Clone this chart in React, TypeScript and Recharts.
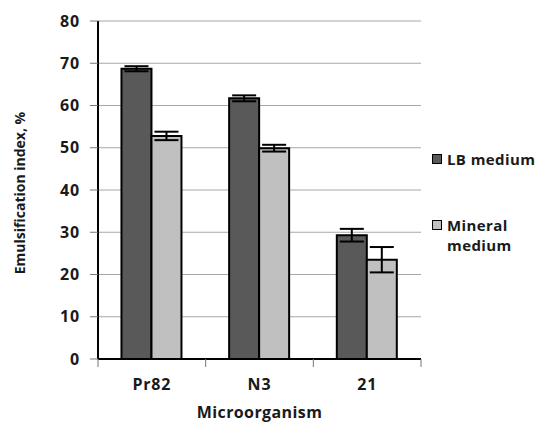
import {
  BarChart,
  Bar,
  XAxis,
  YAxis,
  CartesianGrid,
  ErrorBar,
  Legend,
  Label,
} from "recharts";

const microorganisms = ["Pr82", "N3", "21"];
const lbMedium = [68.7, 61.7, 29.3];
const lbError = [0.6, 0.7, 1.5];
const mineralMedium = [52.8, 49.9, 23.5];
const mineralError = [1.0, 0.8, 3.0];
const yTicks = [0, 10, 20, 30, 40, 50, 60, 70, 80];

const data = microorganisms.map((name, i) => ({
  name,
  lb: lbMedium[i],
  lbErr: lbError[i],
  mineral: mineralMedium[i],
  mineralErr: mineralError[i],
}));

const FONT = "'Open Sans', sans-serif";
const W = 543;
const H = 422;
const margin = { top: 21, right: 122, left: 0, bottom: 0 };
const yAxisWidth = 98;
const xAxisHeight = 63;
const plotWidth = W - margin.left - margin.right - yAxisWidth;
const band = plotWidth / microorganisms.length;

const textStyle = {
  fontFamily: FONT,
  fontWeight: 700,
  fill: "#1a1a1a",
};

function XTick({ x, y, payload }: any) {
  const half = band / 2;
  return (
    <g>
      <line x1={x - half} y1={y - 2} x2={x - half} y2={y + 6} stroke="#777" />
      {payload.index === microorganisms.length - 1 && (
        <line x1={x + half} y1={y - 2} x2={x + half} y2={y + 6} stroke="#777" />
      )}
      <text x={x} y={y + 29} textAnchor="middle" fontSize={16} letterSpacing={0.8} {...textStyle}>
        {payload.value}
      </text>
    </g>
  );
}

function renderLegend({ payload }: any) {
  return (
    <div
      style={{
        fontFamily: FONT,
        fontWeight: 700,
        fontSize: 15,
        letterSpacing: 0.4,
        color: "#1a1a1a",
      }}
    >
      {(payload ?? []).map((p: any, i: number) => (
        <div
          key={p.value}
          style={{ display: "flex", alignItems: "flex-start", marginBottom: i === 0 ? 46 : 0 }}
        >
          <span
            style={{
              width: 8,
              height: 8,
              marginTop: 5,
              marginRight: 5,
              flexShrink: 0,
              background: p.color,
              border: "1.5px solid #000",
            }}
          />
          <span style={{ maxWidth: 100, lineHeight: "20px" }}>{p.value}</span>
        </div>
      ))}
    </div>
  );
}

export default function App() {
  return (
    <div style={{ position: "absolute", left: 0, top: 0, width: W, height: H, background: "#fff" }}>
      <BarChart
        width={W}
        height={H}
        data={data}
        margin={margin}
        barCategoryGap="21.8%"
        barGap={0}
      >
        <CartesianGrid vertical={false} stroke="#a8a8a8" strokeWidth={1.2} />
        <XAxis
          dataKey="name"
          height={xAxisHeight}
          axisLine={{ stroke: "#000", strokeWidth: 2 }}
          tickLine={false}
          tickSize={0}
          tick={<XTick />}
          interval={0}
        >
          <Label
            content={({ viewBox }: any) => (
              <text
                x={viewBox.x + viewBox.width / 2}
                y={viewBox.y + 59}
                textAnchor="middle"
                fontSize={16}
                letterSpacing={0.4}
                {...textStyle}
              >
                Microorganism
              </text>
            )}
          />
        </XAxis>
        <XAxis
          xAxisId="top"
          dataKey="name"
          orientation="top"
          height={0}
          tick={false}
          tickLine={false}
          axisLine={{ stroke: "#000", strokeWidth: 2 }}
        />
        <YAxis
          width={yAxisWidth}
          domain={[0, 80]}
          ticks={yTicks}
          interval={0}
          axisLine={{ stroke: "#000", strokeWidth: 2 }}
          tickLine={{ stroke: "#777" }}
          tickSize={8}
          tickMargin={10}
          tick={{ ...textStyle, fontSize: 16, letterSpacing: 0.8 }}
        >
          <Label
            content={({ viewBox }: any) => {
              const cx = viewBox.x + 19;
              const cy = viewBox.y + viewBox.height / 2 + 3;
              return (
                <text
                  x={cx}
                  y={cy}
                  transform={`rotate(-90 ${cx} ${cy})`}
                  textAnchor="middle"
                  dominantBaseline="central"
                  fontSize={14}
                  {...textStyle}
                >
                  Emulsification index, %
                </text>
              );
            }}
          />
        </YAxis>
        <YAxis
          yAxisId="right"
          orientation="right"
          width={0}
          domain={[0, 80]}
          tick={false}
          tickLine={false}
          axisLine={{ stroke: "#000", strokeWidth: 2 }}
        />
        <Legend
          layout="horizontal"
          verticalAlign="middle"
          align="center"
          wrapperStyle={{ left: 432, top: 149, width: 111 }}
          content={renderLegend}
        />
        <Bar
          dataKey="lb"
          name="LB medium"
          fill="#595959"
          stroke="#000"
          strokeWidth={2}
          isAnimationActive={false}
        >
          <ErrorBar dataKey="lbErr" width={12} stroke="#000" strokeWidth={2} />
        </Bar>
        <Bar
          dataKey="mineral"
          name="Mineral medium"
          fill="#c0c0c0"
          stroke="#000"
          strokeWidth={2}
          isAnimationActive={false}
        >
          <ErrorBar dataKey="mineralErr" width={12} stroke="#000" strokeWidth={2} />
        </Bar>
      </BarChart>
    </div>
  );
}
